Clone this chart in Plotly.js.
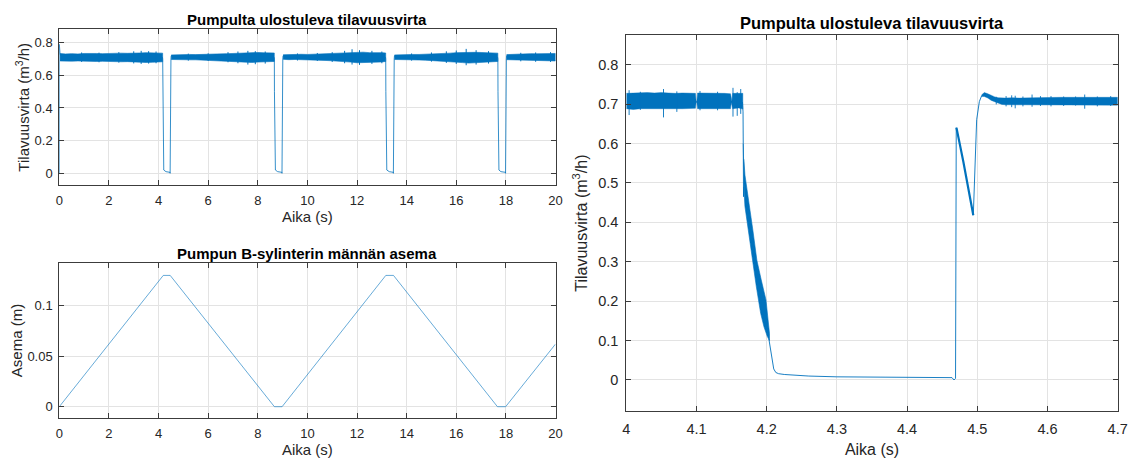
<!DOCTYPE html>
<html>
<head>
<meta charset="utf-8">
<script src="https://cdn.plot.ly/plotly-3.0.1.min.js"></script>
<style>html,body{margin:0;padding:0;background:#fff;}#chart{width:1139px;height:460px;}</style>
</head>
<body>
<div id="chart"></div>
<script>
// ---------- DATA ----------
// Top-left: flow 0..20 s, transitions (drops / recoveries)
const flowPathT = [0, 0.002, 0.03, 0.1, 4.16, 4.167, 4.172, 4.19, 4.21, 4.3, 4.463, 4.467, 4.47, 4.471, 4.494, 4.5, 4.51, 4.6,
  8.66, 8.667, 8.672, 8.69, 8.71, 8.8, 8.972, 8.976, 8.979, 8.98, 9.003, 9.009, 9.02, 9.1,
  13.15, 13.157, 13.162, 13.18, 13.2, 13.3, 13.462, 13.466, 13.469, 13.47, 13.493, 13.499, 13.51, 13.6,
  17.67, 17.677, 17.682, 17.7, 17.72, 17.8, 17.983, 17.987, 17.99, 17.991, 18.014, 18.02, 18.03, 18.1];
const flowPathY = [0, 0.79, 0.73, 0.71, 0.71, 0.70, 0.50, 0.27, 0.02, 0.01, 0.006, 0.0, 0.64, 0.62, 0.42, 0.70, 0.72, 0.71,
  0.71, 0.70, 0.50, 0.27, 0.02, 0.01, 0.006, 0.0, 0.64, 0.62, 0.42, 0.70, 0.72, 0.71,
  0.71, 0.70, 0.50, 0.27, 0.02, 0.01, 0.006, 0.0, 0.64, 0.62, 0.42, 0.70, 0.72, 0.71,
  0.71, 0.70, 0.50, 0.27, 0.02, 0.01, 0.006, 0.0, 0.64, 0.62, 0.42, 0.70, 0.72, 0.71];

// Top-left: dense noise band envelope (null = gap at a drop)
const flowBandT = [0.03,0.25,0.5,0.75,1.0,1.25,1.5,1.75,2.0,2.25,2.5,2.75,3.0,3.25,3.5,3.75,4.0,4.165, null,
  4.51,4.75,5.0,5.25,5.5,5.75,6.0,6.25,6.5,6.75,7.0,7.25,7.5,7.75,8.0,8.25,8.5,8.665, null,
  9.02,9.25,9.5,9.75,10.0,10.25,10.5,10.75,11.0,11.25,11.5,11.75,12.0,12.25,12.5,12.75,13.0,13.155, null,
  13.51,13.75,14.0,14.25,14.5,14.75,15.0,15.25,15.5,15.75,16.0,16.25,16.5,16.75,17.0,17.25,17.5,17.675, null,
  18.03,18.25,18.5,18.75,19.0,19.25,19.5,19.75,20.0];
const flowBandHi = [0.734,0.731,0.733,0.731,0.734,0.732,0.734,0.733,0.735,0.734,0.736,0.735,0.738,0.737,0.739,0.738,0.738,0.736, null,
  0.725,0.727,0.726,0.728,0.727,0.729,0.729,0.731,0.731,0.733,0.734,0.736,0.739,0.738,0.740,0.738,0.739,0.737, null,
  0.726,0.728,0.727,0.729,0.728,0.730,0.730,0.732,0.733,0.734,0.736,0.740,0.741,0.742,0.739,0.740,0.739,0.737, null,
  0.725,0.727,0.726,0.728,0.728,0.729,0.730,0.732,0.734,0.736,0.739,0.741,0.743,0.741,0.740,0.739,0.738,0.736, null,
  0.727,0.729,0.731,0.730,0.733,0.732,0.734,0.733,0.734];
const flowBandLo = [0.688,0.689,0.687,0.688,0.686,0.687,0.685,0.686,0.684,0.685,0.683,0.684,0.681,0.682,0.679,0.680,0.680,0.683, null,
  0.697,0.696,0.696,0.695,0.695,0.694,0.693,0.692,0.691,0.689,0.687,0.684,0.681,0.679,0.681,0.682,0.683,0.685, null,
  0.698,0.696,0.697,0.695,0.695,0.693,0.693,0.691,0.689,0.687,0.685,0.681,0.677,0.678,0.681,0.680,0.682,0.685, null,
  0.697,0.696,0.696,0.695,0.694,0.693,0.692,0.690,0.687,0.685,0.681,0.678,0.675,0.678,0.680,0.682,0.683,0.685, null,
  0.696,0.694,0.693,0.693,0.690,0.691,0.688,0.689,0.688];

// Top-left: isolated noise spikes (time, low, high)
const flowSpikeT  = [0.9,1.6,2.4,3.0,3.3,3.6,3.9, 5.2,6.0,6.8,7.2,7.6,7.9,8.3, 9.6,10.4,11.0,11.5,11.8,12.1,12.6,13.0, 14.2,15.0,15.6,16.0,16.4,16.8,17.3, 18.6,19.2,19.8];
const flowSpikeLo = [0.682,0.680,0.678,0.673,0.670,0.672,0.674, 0.690,0.688,0.680,0.674,0.666,0.668,0.672, 0.691,0.688,0.682,0.674,0.666,0.664,0.670,0.674, 0.690,0.684,0.676,0.670,0.662,0.666,0.672, 0.686,0.683,0.682];
const flowSpikeHi = [0.740,0.739,0.742,0.747,0.750,0.748,0.746, 0.733,0.735,0.742,0.746,0.750,0.748,0.746, 0.734,0.737,0.742,0.750,0.760,0.754,0.750,0.746, 0.734,0.740,0.747,0.752,0.762,0.754,0.748, 0.738,0.740,0.742];

// Bottom-left: piston position
const posT = [0, 4.19, 4.47, 8.67, 8.98, 13.16, 13.47, 17.66, 17.99, 20];
const posY = [0, 0.13, 0.13, 0, 0, 0.13, 0.13, 0, 0, 0.062];

// Right: zoomed flow 4.0..4.7 s, dense band envelope
const zBandT = [4.000,4.010,4.020,4.030,4.040,4.050,4.060,4.070,4.080,4.090,4.0985,4.0995,4.1005,4.1015,4.110,4.120,4.130,4.140,4.1485,4.1495,4.1505,4.1515,4.160,4.166, null,
  4.506,4.510,4.515,4.520,4.525,4.530,4.535,4.540,4.550,4.560,4.580,4.600,4.620,4.640,4.660,4.680,4.700];
const zBandHi = [0.727,0.728,0.728,0.729,0.728,0.729,0.728,0.727,0.728,0.728,0.727,0.707,0.707,0.728,0.728,0.727,0.727,0.727,0.726,0.707,0.707,0.727,0.726,0.727, null,
  0.723,0.729,0.726,0.721,0.718,0.716,0.715,0.715,0.716,0.715,0.716,0.717,0.717,0.717,0.717,0.717,0.717];
const zBandLo = [0.688,0.686,0.688,0.688,0.687,0.688,0.688,0.688,0.688,0.688,0.689,0.704,0.704,0.688,0.688,0.688,0.688,0.688,0.688,0.704,0.704,0.688,0.690,0.687, null,
  0.719,0.719,0.715,0.709,0.705,0.702,0.699,0.698,0.698,0.698,0.697,0.697,0.697,0.697,0.697,0.697,0.697];

// Right: isolated spikes (time, low, high)
const zSpikeT  = [4.004,4.020,4.053,4.072,4.105,4.130,4.152,4.158,4.163, 4.527,4.541,4.549,4.554,4.565,4.578,4.590,4.605,4.623,4.640,4.653,4.671,4.690];
const zSpikeLo = [0.672,0.685,0.666,0.680,0.684,0.684,0.668,0.670,0.675, 0.699,0.694,0.692,0.689,0.694,0.693,0.695,0.694,0.695,0.696,0.688,0.694,0.695];
const zSpikeHi = [0.735,0.731,0.738,0.732,0.733,0.731,0.741,0.730,0.738, 0.718,0.720,0.722,0.721,0.719,0.724,0.720,0.720,0.719,0.719,0.724,0.719,0.720];

// Right: noisy falling flank, left and right edges
const zFallLeftT  = [4.1666,4.1670,4.1680,4.1690,4.1738,4.1795,4.1852,4.1914,4.1961,4.2009,4.2030];
const zFallLeftY  = [0.600,0.520,0.470,0.440,0.380,0.304,0.237,0.169,0.135,0.110,0.100];
const zFallRightT = [4.1675,4.1690,4.1707,4.1755,4.1803,4.1860,4.1922,4.1990,4.2016,4.2040,4.2040];
const zFallRightY = [0.560,0.520,0.500,0.440,0.380,0.304,0.254,0.203,0.152,0.118,0.100];

// Right: thin path segments
const zPathT = [4.1655,4.1663,4.1666,4.1668,4.1670,4.1673,4.1676, null,
  4.2030,4.2045,4.2075,4.2100,4.2130,4.2170,4.2250,4.2400,4.2600,4.3000,4.3500,4.4000,4.4400,4.4640,4.4668,4.4690,4.4695,4.4700,4.4710, null,
  4.4943,4.4955,4.4967,4.4991,4.5029,4.5062];
const zPathY = [0.705,0.680,0.600,0.500,0.465,0.520,0.490, null,
  0.105,0.090,0.050,0.028,0.019,0.016,0.014,0.012,0.010,0.008,0.0075,0.0068,0.0065,0.006,0.000,0.004,0.300,0.640,0.632, null,
  0.418,0.470,0.550,0.660,0.706,0.721];

// Right: noisy sawtooth after recovery
const zSawT = [4.4703,4.4730,4.4760,4.4800,4.4850,4.4900,4.4943];
const zSawY = [0.640,0.620,0.590,0.555,0.510,0.460,0.418];

// Labels
const titleFlow = 'Pumpulta ulostuleva tilavuusvirta';
const titlePos = 'Pumpun B-sylinterin männän asema';
const xLabel = 'Aika (s)';
const yLabelFlow = 'Tilavuusvirta (m<sup>3</sup>/h)';
const yLabelPos = 'Asema (m)';

// ---------- BUILD ----------
function bandPoly(t, hi, lo) {
  const x = [], y = [];
  let sT = [], sH = [], sL = [];
  const flush = () => {
    if (sT.length) {
      x.push(...sT, ...sT.slice().reverse(), null);
      y.push(...sH, ...sL.slice().reverse(), null);
    }
    sT = []; sH = []; sL = [];
  };
  for (let i = 0; i < t.length; i++) {
    if (t[i] === null) flush(); else { sT.push(t[i]); sH.push(hi[i]); sL.push(lo[i]); }
  }
  flush();
  return {x, y};
}
function edgePoly(lt, ly, rt, ry) {
  return {x: lt.concat(rt.slice().reverse()), y: ly.concat(ry.slice().reverse())};
}
function spikes(t, lo, hi) {
  const x = [], y = [];
  for (let i = 0; i < t.length; i++) { x.push(t[i], t[i], null); y.push(lo[i], hi[i], null); }
  return {x, y};
}

const C = '#0072BD';
const tlBand = bandPoly(flowBandT, flowBandHi, flowBandLo);
const tlSpk = spikes(flowSpikeT, flowSpikeLo, flowSpikeHi);
const zBand = bandPoly(zBandT, zBandHi, zBandLo);
const zSpk = spikes(zSpikeT, zSpikeLo, zSpikeHi);
const zFall = edgePoly(zFallLeftT, zFallLeftY, zFallRightT, zFallRightY);

const traces = [
  {x: flowPathT, y: flowPathY, xaxis: 'x', yaxis: 'y', mode: 'lines', line: {color: C, width: 0.8}},
  {x: tlBand.x, y: tlBand.y, xaxis: 'x', yaxis: 'y', mode: 'lines', fill: 'toself', fillcolor: C, line: {color: C, width: 0.6}},
  {x: tlSpk.x, y: tlSpk.y, xaxis: 'x', yaxis: 'y', mode: 'lines', line: {color: C, width: 1}},
  {x: posT, y: posY, xaxis: 'x2', yaxis: 'y2', mode: 'lines', line: {color: C, width: 0.6}},
  {x: zPathT, y: zPathY, xaxis: 'x3', yaxis: 'y3', mode: 'lines', line: {color: C, width: 0.9}},
  {x: zBand.x, y: zBand.y, xaxis: 'x3', yaxis: 'y3', mode: 'lines', fill: 'toself', fillcolor: C, line: {color: C, width: 0.4}},
  {x: zSpk.x, y: zSpk.y, xaxis: 'x3', yaxis: 'y3', mode: 'lines', line: {color: C, width: 0.9}},
  {x: zFall.x, y: zFall.y, xaxis: 'x3', yaxis: 'y3', mode: 'lines', fill: 'toself', fillcolor: C, line: {color: C, width: 0.6}},
  {x: zSawT, y: zSawY, xaxis: 'x3', yaxis: 'y3', mode: 'lines', line: {color: C, width: 2.2}}
].map(t => Object.assign({type: 'scatter', hoverinfo: 'skip', showlegend: false, connectgaps: false}, t));

const W = 1139, H = 460;
const FONT = 'Liberation Sans, Arial, Helvetica, sans-serif';
const axBase = {
  showgrid: true, gridcolor: '#e3e3e3', gridwidth: 1, zeroline: false,
  showline: true, linecolor: '#3c3c3c', linewidth: 1, mirror: 'ticks',
  ticks: 'inside', ticklen: 5, tickwidth: 1, tickcolor: '#3c3c3c',
  tickfont: {family: FONT, size: 13, color: '#262626'}, fixedrange: true, ticklabelstandoff: 3
};
function ax(extra) { return Object.assign({}, axBase, extra); }
function tt(text, size, standoff) { return {text: text, font: {family: FONT, size: size, color: '#262626'}, standoff: standoff}; }
const bigTick = {family: FONT, size: 14.5, color: '#262626'};

const layout = {
  width: W, height: H, margin: {l: 0, r: 0, t: 0, b: 0},
  paper_bgcolor: '#fff', plot_bgcolor: '#fff', showlegend: false,
  xaxis: ax({domain: [59.3 / W, 555.5 / W], range: [0, 20], dtick: 2, tick0: 0, anchor: 'y', title: tt(xLabel, 15, 4)}),
  yaxis: ax({domain: [1 - 185.3 / H, 1 - 29.3 / H], range: [-0.0735, 0.882], dtick: 0.2, tick0: 0, anchor: 'x', title: tt(yLabelFlow, 15, 1)}),
  xaxis2: ax({domain: [59.3 / W, 555.5 / W], range: [0, 20], dtick: 2, tick0: 0, anchor: 'y2', title: tt(xLabel, 15, 4)}),
  yaxis2: ax({domain: [1 - 418.3 / H, 1 - 262.7 / H], range: [-0.0115, 0.1426], dtick: 0.05, tick0: 0, anchor: 'x2', title: tt(yLabelPos, 15, 1)}),
  xaxis3: ax({domain: [626.3 / W, 1117.7 / W], range: [4, 4.7], dtick: 0.1, tick0: 4, anchor: 'y3', tickfont: bigTick, ticklabelstandoff: 4, title: tt(xLabel, 16, 8)}),
  yaxis3: ax({domain: [1 - 411.3 / H, 1 - 35 / H], range: [-0.0794, 0.875], dtick: 0.1, tick0: 0, anchor: 'x3', tickfont: bigTick, ticklabelstandoff: 4, title: tt(yLabelFlow, 16, 6)}),
  annotations: [
    {text: titleFlow, xref: 'paper', yref: 'paper', x: (59.3 + 555.5) / 2 / W, y: 1 - 20 / H, xanchor: 'center', yanchor: 'middle', showarrow: false, font: {family: FONT, size: 15, color: '#000', weight: 'bold'}},
    {text: titlePos, xref: 'paper', yref: 'paper', x: (59.3 + 555.5) / 2 / W, y: 1 - 253.3 / H, xanchor: 'center', yanchor: 'middle', showarrow: false, font: {family: FONT, size: 15, color: '#000', weight: 'bold'}},
    {text: titleFlow, xref: 'paper', yref: 'paper', x: (626.3 + 1117.7) / 2 / W, y: 1 - 23.3 / H, xanchor: 'center', yanchor: 'middle', showarrow: false, font: {family: FONT, size: 16.5, color: '#000', weight: 'bold'}}
  ]
};

Plotly.newPlot('chart', traces, layout, {staticPlot: true, displayModeBar: false});
</script>
</body>
</html>
